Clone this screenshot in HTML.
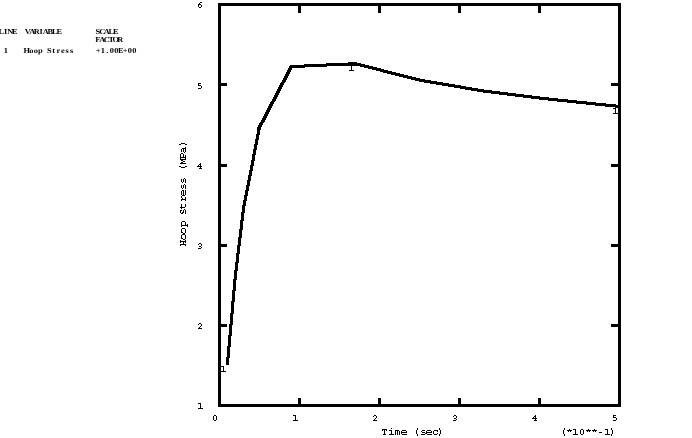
<!DOCTYPE html>
<html><head><meta charset="utf-8"><style>
html,body{margin:0;padding:0;background:#fff;width:692px;height:438px;overflow:hidden}
svg{display:block;will-change:transform}
text{font-family:"Liberation Mono",monospace;fill:#000}
.lg{font-family:"Liberation Serif",serif;font-size:7.6px;font-weight:bold;text-anchor:middle;text-rendering:geometricPrecision}
</style></head><body>
<svg width="692" height="438" viewBox="0 0 692 438">
<!-- legend -->
<text class="lg" transform="scale(1.1,1)" x="1.137 5.228 9.319 13.409" y="34.3">LINE</text>
<text class="lg" transform="scale(1.1,1)" x="25.227 29.318 33.409 37.500 41.591 45.682 49.773 53.864" y="34.3">VARIABLE</text>
<text class="lg" transform="scale(1.1,1)" x="88.863 92.954 97.045 101.136 105.227" y="34.3">SCALE</text>
<text class="lg" transform="scale(1.1,1)" x="88.863 92.954 97.045 101.136 105.227 109.318" y="42.2">FACTOR</text>
<text class="lg" transform="scale(1.1,1)" x="5.228" y="53.2">1</text>
<text class="lg" transform="scale(1.1,1)" x="24.319 28.409 32.500 36.591 40.682 44.773 48.864 52.955 57.046 61.137 65.228" y="53.2">Hoop&#160;Stress</text>
<text class="lg" transform="scale(1.1,1)" x="89.318 93.409 97.500 101.591 105.682 109.773 113.864 117.955 122.045" y="53.2">+1.00E+00</text>

<!-- frame -->
<g fill="#000" shape-rendering="crispEdges">
<rect x="218" y="3" width="403" height="3"/>
<rect x="218" y="404" width="403" height="3"/>
<rect x="218" y="3" width="3" height="404"/>
<rect x="618" y="3" width="3" height="404"/>
<!-- bottom ticks -->
<rect x="298" y="398" width="3" height="6"/>
<rect x="378" y="398" width="3" height="6"/>
<rect x="458" y="398" width="3" height="6"/>
<rect x="538" y="398" width="3" height="6"/>
<!-- top ticks -->
<rect x="298" y="6" width="3" height="7"/>
<rect x="378" y="6" width="3" height="7"/>
<rect x="458" y="6" width="3" height="7"/>
<rect x="538" y="6" width="3" height="7"/>
<!-- left ticks -->
<rect x="221" y="324" width="6" height="3"/>
<rect x="221" y="244" width="6" height="3"/>
<rect x="221" y="164" width="6" height="3"/>
<rect x="221" y="83" width="6" height="3"/>
<!-- right ticks -->
<rect x="611" y="324" width="7" height="3"/>
<rect x="611" y="244" width="7" height="3"/>
<rect x="611" y="164" width="7" height="3"/>
<rect x="611" y="83" width="7" height="3"/>
</g>

<!-- curve -->
<path id="curve" fill="#000" shape-rendering="crispEdges" d="M348 62h9v1h-9zM326 63h35v1h-35zM304 64h61v1h-61zM290 65h59v1h-59zM352 65h17v1h-17zM289 66h38v1h-38zM360 66h13v1h-13zM289 67h16v1h-16zM364 67h13v1h-13zM288 68h4v1h-4zM368 68h13v1h-13zM288 69h4v1h-4zM372 69h12v1h-12zM287 70h4v1h-4zM376 70h12v1h-12zM287 71h4v1h-4zM380 71h12v1h-12zM286 72h4v1h-4zM383 72h13v1h-13zM286 73h4v1h-4zM387 73h13v1h-13zM285 74h4v1h-4zM391 74h13v1h-13zM285 75h4v1h-4zM395 75h13v1h-13zM284 76h4v1h-4zM399 76h13v1h-13zM284 77h4v1h-4zM403 77h13v1h-13zM283 78h4v1h-4zM407 78h13v1h-13zM283 79h4v1h-4zM411 79h14v1h-14zM282 80h4v1h-4zM415 80h16v1h-16zM282 81h4v1h-4zM419 81h18v1h-18zM281 82h4v1h-4zM424 82h19v1h-19zM280 83h4v1h-4zM430 83h19v1h-19zM280 84h4v1h-4zM436 84h19v1h-19zM279 85h4v1h-4zM442 85h19v1h-19zM279 86h4v1h-4zM448 86h18v1h-18zM278 87h4v1h-4zM454 87h18v1h-18zM278 88h4v1h-4zM460 88h18v1h-18zM277 89h4v1h-4zM465 89h19v1h-19zM277 90h4v1h-4zM471 90h21v1h-21zM276 91h4v1h-4zM477 91h23v1h-23zM276 92h4v1h-4zM483 92h25v1h-25zM275 93h4v1h-4zM491 93h25v1h-25zM275 94h4v1h-4zM499 94h25v1h-25zM274 95h4v1h-4zM507 95h25v1h-25zM274 96h4v1h-4zM515 96h25v1h-25zM273 97h4v1h-4zM523 97h26v1h-26zM273 98h4v1h-4zM531 98h27v1h-27zM272 99h4v1h-4zM539 99h29v1h-29zM272 100h4v1h-4zM548 100h29v1h-29zM271 101h4v1h-4zM557 101h30v1h-30zM270 102h4v1h-4zM567 102h29v1h-29zM270 103h4v1h-4zM576 103h30v1h-30zM269 104h4v1h-4zM586 104h30v1h-30zM269 105h4v1h-4zM595 105h25v1h-25zM268 106h4v1h-4zM605 106h15v1h-15zM268 107h4v1h-4zM615 107h5v1h-5zM267 108h4v1h-4zM267 109h4v1h-4zM266 110h4v1h-4zM266 111h4v1h-4zM265 112h4v1h-4zM265 113h4v1h-4zM264 114h4v1h-4zM264 115h4v1h-4zM263 116h4v1h-4zM263 117h4v1h-4zM262 118h4v1h-4zM262 119h4v1h-4zM261 120h4v1h-4zM261 121h4v1h-4zM260 122h4v1h-4zM259 123h4v1h-4zM259 124h4v1h-4zM258 125h4v1h-4zM258 126h4v1h-4zM257 127h4v1h-4zM257 128h4v1h-4zM257 129h4v1h-4zM257 130h3v1h-3zM257 131h3v1h-3zM257 132h3v1h-3zM257 133h3v1h-3zM256 134h4v1h-4zM256 135h3v1h-3zM256 136h3v1h-3zM256 137h3v1h-3zM256 138h3v1h-3zM255 139h4v1h-4zM255 140h3v1h-3zM255 141h3v1h-3zM255 142h3v1h-3zM255 143h3v1h-3zM254 144h4v1h-4zM254 145h3v1h-3zM254 146h3v1h-3zM254 147h3v1h-3zM254 148h3v1h-3zM253 149h4v1h-4zM253 150h3v1h-3zM253 151h3v1h-3zM253 152h3v1h-3zM253 153h3v1h-3zM252 154h4v1h-4zM252 155h3v1h-3zM252 156h3v1h-3zM252 157h3v1h-3zM252 158h3v1h-3zM252 159h3v1h-3zM251 160h4v1h-4zM251 161h3v1h-3zM251 162h3v1h-3zM251 163h3v1h-3zM251 164h3v1h-3zM250 165h4v1h-4zM250 166h3v1h-3zM250 167h3v1h-3zM250 168h3v1h-3zM250 169h3v1h-3zM249 170h4v1h-4zM249 171h3v1h-3zM249 172h3v1h-3zM249 173h3v1h-3zM249 174h3v1h-3zM248 175h4v1h-4zM248 176h3v1h-3zM248 177h3v1h-3zM248 178h3v1h-3zM248 179h3v1h-3zM247 180h4v1h-4zM247 181h3v1h-3zM247 182h3v1h-3zM247 183h3v1h-3zM247 184h3v1h-3zM246 185h4v1h-4zM246 186h3v1h-3zM246 187h3v1h-3zM246 188h3v1h-3zM246 189h3v1h-3zM245 190h4v1h-4zM245 191h3v1h-3zM245 192h3v1h-3zM245 193h3v1h-3zM245 194h3v1h-3zM244 195h4v1h-4zM244 196h3v1h-3zM244 197h3v1h-3zM244 198h3v1h-3zM244 199h3v1h-3zM243 200h4v1h-4zM243 201h3v1h-3zM243 202h3v1h-3zM243 203h3v1h-3zM243 204h3v1h-3zM242 205h4v1h-4zM242 206h3v1h-3zM242 207h3v1h-3zM242 208h3v1h-3zM242 209h3v1h-3zM242 210h3v1h-3zM242 211h3v1h-3zM241 212h4v1h-4zM241 213h3v1h-3zM241 214h3v1h-3zM241 215h3v1h-3zM241 216h3v1h-3zM241 217h3v1h-3zM241 218h3v1h-3zM241 219h3v1h-3zM240 220h4v1h-4zM240 221h3v1h-3zM240 222h3v1h-3zM240 223h3v1h-3zM240 224h3v1h-3zM240 225h3v1h-3zM240 226h3v1h-3zM240 227h3v1h-3zM240 228h3v1h-3zM239 229h4v1h-4zM239 230h3v1h-3zM239 231h3v1h-3zM239 232h3v1h-3zM239 233h3v1h-3zM239 234h3v1h-3zM239 235h3v1h-3zM239 236h3v1h-3zM238 237h4v1h-4zM238 238h3v1h-3zM238 239h3v1h-3zM238 240h3v1h-3zM238 241h3v1h-3zM238 242h3v1h-3zM238 243h3v1h-3zM238 244h3v1h-3zM237 245h4v1h-4zM237 246h3v1h-3zM237 247h3v1h-3zM237 248h3v1h-3zM237 249h3v1h-3zM237 250h3v1h-3zM237 251h3v1h-3zM237 252h3v1h-3zM236 253h4v1h-4zM236 254h3v1h-3zM236 255h3v1h-3zM236 256h3v1h-3zM236 257h3v1h-3zM236 258h3v1h-3zM236 259h3v1h-3zM236 260h3v1h-3zM236 261h3v1h-3zM235 262h4v1h-4zM235 263h3v1h-3zM235 264h3v1h-3zM235 265h3v1h-3zM235 266h3v1h-3zM235 267h3v1h-3zM235 268h3v1h-3zM235 269h3v1h-3zM234 270h4v1h-4zM234 271h3v1h-3zM234 272h3v1h-3zM234 273h3v1h-3zM234 274h3v1h-3zM234 275h3v1h-3zM234 276h3v1h-3zM234 277h3v1h-3zM234 278h3v1h-3zM233 279h4v1h-4zM233 280h3v1h-3zM233 281h3v1h-3zM233 282h3v1h-3zM233 283h3v1h-3zM233 284h3v1h-3zM233 285h3v1h-3zM233 286h3v1h-3zM233 287h3v1h-3zM233 288h3v1h-3zM233 289h3v1h-3zM232 290h4v1h-4zM232 291h3v1h-3zM232 292h3v1h-3zM232 293h3v1h-3zM232 294h3v1h-3zM232 295h3v1h-3zM232 296h3v1h-3zM232 297h3v1h-3zM232 298h3v1h-3zM232 299h3v1h-3zM232 300h3v1h-3zM231 301h4v1h-4zM231 302h3v1h-3zM231 303h3v1h-3zM231 304h3v1h-3zM231 305h3v1h-3zM231 306h3v1h-3zM231 307h3v1h-3zM231 308h3v1h-3zM231 309h3v1h-3zM231 310h3v1h-3zM231 311h3v1h-3zM231 312h3v1h-3zM230 313h4v1h-4zM230 314h3v1h-3zM230 315h3v1h-3zM230 316h3v1h-3zM230 317h3v1h-3zM230 318h3v1h-3zM230 319h3v1h-3zM230 320h3v1h-3zM230 321h3v1h-3zM230 322h3v1h-3zM230 323h3v1h-3zM229 324h4v1h-4zM229 325h3v1h-3zM229 326h3v1h-3zM229 327h3v1h-3zM229 328h3v1h-3zM229 329h3v1h-3zM229 330h3v1h-3zM229 331h3v1h-3zM229 332h3v1h-3zM229 333h3v1h-3zM229 334h3v1h-3zM228 335h4v1h-4zM228 336h3v1h-3zM228 337h3v1h-3zM228 338h3v1h-3zM228 339h3v1h-3zM228 340h3v1h-3zM228 341h3v1h-3zM228 342h3v1h-3zM228 343h3v1h-3zM228 344h3v1h-3zM228 345h3v1h-3zM227 346h4v1h-4zM227 347h3v1h-3zM227 348h3v1h-3zM227 349h3v1h-3zM227 350h3v1h-3zM227 351h3v1h-3zM227 352h3v1h-3zM227 353h3v1h-3zM227 354h3v1h-3zM227 355h3v1h-3zM227 356h3v1h-3zM226 357h4v1h-4zM226 358h3v1h-3zM226 359h3v1h-3zM226 360h3v1h-3zM226 361h3v1h-3zM226 362h3v1h-3zM226 363h3v1h-3zM226 364h3v1h-3z"/>

<!-- tick labels, axis titles, curve markers (bitmap glyphs) -->
<path id="glyphs" fill="#000" shape-rendering="crispEdges" d="M200 2h2v1h-2zM199 3h1v1h-1zM198 4h3v1h-3zM198 5h1v1h-1zM201 5h1v1h-1zM198 6h1v1h-1zM201 6h1v1h-1zM199 7h2v1h-2zM349 65h3v1h-3zM351 66h1v1h-1zM351 67h1v1h-1zM351 68h1v1h-1zM351 69h1v1h-1zM349 70h5v1h-5zM198 83h3v1h-3zM198 84h1v1h-1zM198 85h3v1h-3zM201 86h1v1h-1zM201 87h1v1h-1zM198 88h3v1h-3zM613 108h3v1h-3zM615 109h1v1h-1zM615 110h1v1h-1zM615 111h1v1h-1zM615 112h1v1h-1zM613 113h5v1h-5zM181 143h4v1h-4zM179 144h2v1h-2zM185 144h2v1h-2zM185 147h1v1h-1zM182 148h4v1h-4zM181 149h1v1h-1zM183 149h1v1h-1zM185 149h1v1h-1zM181 150h1v1h-1zM183 150h1v1h-1zM185 150h1v1h-1zM181 151h1v1h-1zM183 151h1v1h-1zM185 151h1v1h-1zM184 152h1v1h-1zM181 153h2v1h-2zM180 154h1v1h-1zM183 154h1v1h-1zM180 155h1v1h-1zM183 155h1v1h-1zM185 155h1v1h-1zM180 156h1v1h-1zM183 156h1v1h-1zM185 156h1v1h-1zM180 157h6v1h-6zM180 158h1v1h-1zM185 158h1v1h-1zM180 159h6v1h-6zM181 160h2v1h-2zM183 161h2v1h-2zM181 162h2v1h-2zM180 163h6v1h-6zM200 163h1v1h-1zM199 164h2v1h-2zM198 165h1v1h-1zM200 165h1v1h-1zM179 166h2v1h-2zM185 166h2v1h-2zM197 166h5v1h-5zM181 167h4v1h-4zM200 167h1v1h-1zM199 168h3v1h-3zM184 178h1v1h-1zM181 179h1v1h-1zM183 179h1v1h-1zM185 179h1v1h-1zM181 180h1v1h-1zM183 180h1v1h-1zM185 180h1v1h-1zM181 181h1v1h-1zM183 181h1v1h-1zM185 181h1v1h-1zM182 182h1v1h-1zM185 182h1v1h-1zM184 184h1v1h-1zM181 185h1v1h-1zM183 185h1v1h-1zM185 185h1v1h-1zM181 186h1v1h-1zM183 186h1v1h-1zM185 186h1v1h-1zM181 187h1v1h-1zM183 187h1v1h-1zM185 187h1v1h-1zM182 188h1v1h-1zM185 188h1v1h-1zM182 190h2v1h-2zM185 190h1v1h-1zM181 191h1v1h-1zM183 191h1v1h-1zM185 191h1v1h-1zM181 192h1v1h-1zM183 192h1v1h-1zM185 192h1v1h-1zM181 193h1v1h-1zM183 193h1v1h-1zM185 193h1v1h-1zM181 194h1v1h-1zM183 194h1v1h-1zM185 194h1v1h-1zM182 195h3v1h-3zM181 196h1v1h-1zM181 197h1v1h-1zM185 197h1v1h-1zM182 198h1v1h-1zM185 198h1v1h-1zM181 199h5v1h-5zM181 200h1v1h-1zM185 200h1v1h-1zM181 204h1v1h-1zM185 204h1v1h-1zM181 205h1v1h-1zM185 205h1v1h-1zM181 206h1v1h-1zM185 206h1v1h-1zM180 207h5v1h-5zM181 208h1v1h-1zM184 209h1v1h-1zM180 210h2v1h-2zM183 210h1v1h-1zM185 210h1v1h-1zM180 211h1v1h-1zM183 211h1v1h-1zM185 211h1v1h-1zM180 212h1v1h-1zM182 212h2v1h-2zM185 212h1v1h-1zM181 213h2v1h-2zM185 213h1v1h-1zM182 221h3v1h-3zM181 222h1v1h-1zM185 222h1v1h-1zM181 223h1v1h-1zM185 223h1v1h-1zM181 224h1v1h-1zM185 224h1v1h-1zM187 224h1v1h-1zM181 225h7v1h-7zM181 226h1v1h-1zM187 226h1v1h-1zM182 228h3v1h-3zM181 229h1v1h-1zM185 229h1v1h-1zM181 230h1v1h-1zM185 230h1v1h-1zM181 231h1v1h-1zM185 231h1v1h-1zM181 232h2v1h-2zM185 232h1v1h-1zM183 233h2v1h-2zM182 234h3v1h-3zM181 235h1v1h-1zM185 235h1v1h-1zM181 236h1v1h-1zM185 236h1v1h-1zM181 237h1v1h-1zM185 237h1v1h-1zM181 238h2v1h-2zM185 238h1v1h-1zM183 239h2v1h-2zM180 240h1v1h-1zM185 240h1v1h-1zM180 241h6v1h-6zM180 242h1v1h-1zM183 242h1v1h-1zM185 242h1v1h-1zM183 243h1v1h-1zM199 243h2v1h-2zM180 244h6v1h-6zM198 244h1v1h-1zM201 244h1v1h-1zM180 245h1v1h-1zM185 245h1v1h-1zM201 245h1v1h-1zM199 246h2v1h-2zM201 247h1v1h-1zM198 248h3v1h-3zM199 323h2v1h-2zM198 324h1v1h-1zM201 324h1v1h-1zM201 325h1v1h-1zM200 326h1v1h-1zM199 327h1v1h-1zM198 328h4v1h-4zM221 366h3v1h-3zM223 367h1v1h-1zM223 368h1v1h-1zM223 369h1v1h-1zM223 370h1v1h-1zM221 371h5v1h-5zM198 403h3v1h-3zM200 404h1v1h-1zM200 405h1v1h-1zM200 406h1v1h-1zM200 407h1v1h-1zM198 408h5v1h-5zM214 415h2v1h-2zM293 415h3v1h-3zM374 415h2v1h-2zM454 415h2v1h-2zM535 415h1v1h-1zM613 415h3v1h-3zM213 416h1v1h-1zM216 416h1v1h-1zM295 416h1v1h-1zM373 416h1v1h-1zM376 416h1v1h-1zM453 416h1v1h-1zM456 416h1v1h-1zM534 416h2v1h-2zM613 416h1v1h-1zM213 417h1v1h-1zM216 417h1v1h-1zM295 417h1v1h-1zM376 417h1v1h-1zM456 417h1v1h-1zM533 417h1v1h-1zM535 417h1v1h-1zM613 417h3v1h-3zM213 418h1v1h-1zM216 418h1v1h-1zM295 418h1v1h-1zM375 418h1v1h-1zM454 418h2v1h-2zM532 418h5v1h-5zM616 418h1v1h-1zM213 419h1v1h-1zM216 419h1v1h-1zM295 419h1v1h-1zM374 419h1v1h-1zM456 419h1v1h-1zM535 419h1v1h-1zM616 419h1v1h-1zM214 420h2v1h-2zM293 420h5v1h-5zM373 420h4v1h-4zM453 420h3v1h-3zM534 420h3v1h-3zM613 420h3v1h-3zM391 428h1v1h-1zM417 428h1v1h-1zM439 428h1v1h-1zM564 428h1v1h-1zM611 428h1v1h-1zM382 429h5v1h-5zM417 429h1v1h-1zM439 429h1v1h-1zM564 429h1v1h-1zM569 429h1v1h-1zM573 429h3v1h-3zM581 429h2v1h-2zM588 429h1v1h-1zM594 429h1v1h-1zM605 429h3v1h-3zM611 429h1v1h-1zM382 430h1v1h-1zM384 430h1v1h-1zM386 430h1v1h-1zM389 430h3v1h-3zM395 430h4v1h-4zM402 430h4v1h-4zM416 430h1v1h-1zM422 430h3v1h-3zM427 430h4v1h-4zM434 430h4v1h-4zM440 430h1v1h-1zM563 430h1v1h-1zM567 430h5v1h-5zM575 430h1v1h-1zM580 430h1v1h-1zM583 430h1v1h-1zM586 430h5v1h-5zM592 430h5v1h-5zM607 430h1v1h-1zM612 430h1v1h-1zM384 431h1v1h-1zM391 431h1v1h-1zM395 431h1v1h-1zM397 431h1v1h-1zM399 431h1v1h-1zM401 431h1v1h-1zM406 431h1v1h-1zM416 431h1v1h-1zM421 431h1v1h-1zM426 431h1v1h-1zM431 431h1v1h-1zM433 431h1v1h-1zM437 431h1v1h-1zM440 431h1v1h-1zM563 431h1v1h-1zM568 431h1v1h-1zM570 431h1v1h-1zM575 431h1v1h-1zM580 431h1v1h-1zM583 431h1v1h-1zM587 431h1v1h-1zM589 431h1v1h-1zM593 431h1v1h-1zM595 431h1v1h-1zM607 431h1v1h-1zM612 431h1v1h-1zM384 432h1v1h-1zM391 432h1v1h-1zM395 432h1v1h-1zM397 432h1v1h-1zM399 432h1v1h-1zM401 432h6v1h-6zM416 432h1v1h-1zM422 432h3v1h-3zM426 432h6v1h-6zM433 432h1v1h-1zM440 432h1v1h-1zM563 432h1v1h-1zM575 432h1v1h-1zM580 432h1v1h-1zM583 432h1v1h-1zM599 432h3v1h-3zM607 432h1v1h-1zM612 432h1v1h-1zM384 433h1v1h-1zM391 433h1v1h-1zM395 433h1v1h-1zM397 433h1v1h-1zM399 433h1v1h-1zM401 433h1v1h-1zM416 433h1v1h-1zM425 433h2v1h-2zM433 433h1v1h-1zM437 433h1v1h-1zM440 433h1v1h-1zM563 433h1v1h-1zM575 433h1v1h-1zM580 433h1v1h-1zM583 433h1v1h-1zM607 433h1v1h-1zM612 433h1v1h-1zM383 434h3v1h-3zM389 434h5v1h-5zM395 434h1v1h-1zM397 434h1v1h-1zM399 434h1v1h-1zM402 434h5v1h-5zM417 434h1v1h-1zM421 434h4v1h-4zM427 434h5v1h-5zM434 434h3v1h-3zM439 434h1v1h-1zM564 434h1v1h-1zM573 434h5v1h-5zM581 434h2v1h-2zM605 434h5v1h-5zM611 434h1v1h-1zM417 435h1v1h-1zM439 435h1v1h-1zM564 435h1v1h-1zM611 435h1v1h-1z"/>
</svg>
</body></html>
